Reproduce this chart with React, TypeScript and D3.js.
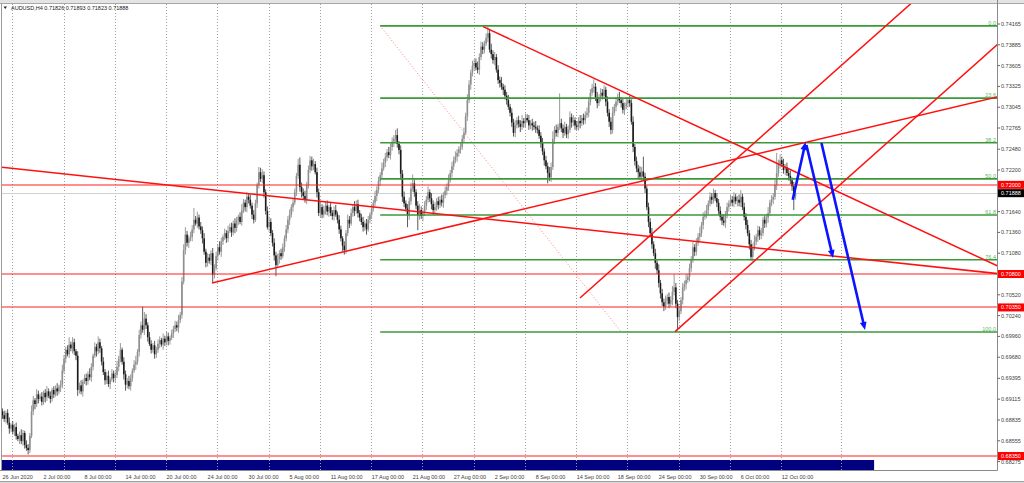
import React from 'react';
import * as d3 from 'd3';

const W = 1024;
const H = 483;
const PLOT = { left: 2, right: 997.5, top: 4, bottom: 470.5 };
const FONT = 'Liberation Sans, Arial, sans-serif';

const headerSymbol = 'AUDUSD,H4';
const headerQuote = ['0.71826', '0.71893', '0.71823', '0.71888'];

// H4 closes in pips (price * 10000), 26 Jun 2020 00:00 onward
const OPEN0 = 6895;
const closes = [
  6890,6885,6893,6880,6872,6877,6868,6874,6862,6858,
  6863,6855,6866,6850,6846,6843,6862,6895,6910,6905,
  6918,6912,6915,6908,6920,6914,6922,6916,6912,6924,
  6918,6926,6922,6928,6931,6950,6966,6978,6972,6985,
  6980,6988,6976,6970,6924,6930,6922,6935,6940,6936,
  6945,6941,6955,6970,6982,6976,6988,6980,6962,6948,
  6937,6943,6932,6938,6946,6940,6944,6955,6966,6978,
  6962,6945,6931,6936,6929,6940,6950,6958,6962,6975,
  6998,7011,7005,7020,7011,6995,6986,6978,6984,6972,
  6978,6986,6991,6985,6993,6988,6996,6990,6994,7000,
  7006,7011,7008,7018,7025,7070,7112,7133,7122,7128,
  7130,7140,7153,7148,7156,7144,7139,7128,7110,7095,
  7102,7098,7108,7079,7088,7104,7116,7110,7124,7130,
  7135,7128,7138,7143,7136,7148,7142,7152,7157,7150,
  7166,7176,7170,7184,7180,7172,7160,7153,7175,7200,
  7217,7208,7213,7190,7165,7143,7150,7135,7122,7105,
  7092,7100,7108,7104,7116,7128,7140,7153,7160,7170,
  7176,7190,7212,7227,7197,7190,7185,7180,7200,7220,
  7233,7225,7228,7217,7190,7162,7170,7160,7166,7172,
  7164,7170,7162,7158,7166,7160,7153,7140,7128,7118,
  7112,7135,7153,7148,7162,7170,7165,7174,7162,7156,
  7150,7143,7148,7140,7153,7160,7168,7176,7185,7193,
  7205,7213,7222,7230,7237,7244,7240,7251,7258,7262,
  7267,7255,7247,7215,7184,7175,7168,7159,7178,7195,
  7202,7190,7172,7159,7166,7158,7163,7172,7180,7190,
  7182,7174,7166,7170,7178,7173,7180,7176,7186,7192,
  7197,7206,7216,7225,7233,7238,7243,7248,7251,7262,
  7270,7292,7314,7335,7351,7360,7364,7358,7355,7372,
  7386,7382,7390,7398,7404,7382,7376,7368,7372,7355,
  7341,7337,7332,7328,7320,7314,7305,7297,7284,7270,
  7280,7287,7282,7278,7286,7283,7290,7287,7280,7283,
  7280,7278,7276,7274,7266,7256,7245,7233,7225,7216,
  7210,7224,7262,7274,7270,7278,7283,7276,7270,7278,
  7268,7274,7291,7284,7287,7280,7278,7286,7283,7290,
  7287,7294,7297,7312,7324,7330,7332,7318,7310,7318,
  7324,7320,7328,7312,7297,7285,7274,7297,7305,7312,
  7318,7314,7310,7301,7306,7310,7314,7310,7285,7251,
  7232,7222,7217,7211,7218,7211,7195,7170,7150,7135,
  7120,7108,7095,7085,7068,7054,7042,7036,7044,7049,
  7040,7045,7056,7062,7040,7022,7030,7045,7062,7066,
  7072,7076,7088,7099,7116,7110,7122,7130,7135,7146,
  7157,7160,7166,7175,7184,7180,7189,7182,7176,7165,
  7157,7152,7149,7160,7170,7175,7180,7176,7184,7178,
  7180,7176,7184,7170,7157,7146,7135,7120,7103,7116,
  7124,7130,7139,7132,7135,7153,7148,7156,7162,7176,
  7180,7184,7200,7216,7228,7233,7228,7220,7224,7216,
  7212,7206,7198,7184,7189,
];

// upper / lower shadow lengths in pips
const wickUp = [
  4,6,3,5,7,2,5,4,6,3,5,8,4,3,6,
  5,4,8,6,3,7,5,4,6,3,5,7,4,6,3,
  5,4,7,3,6,8,5,4,6,10,4,7,5,3,6,
  4,7,3,5,6,4,8,5,3,6,4,8,5,3,6,
  4,5,7,3,6,4,5,8,4,9,3,6,5,4,7,
  5,3,6,8,4,7,5,25,9,6,4,7,5,3,6,
  4,6,5,3,7,4,6,5,3,5,4,6,5,7,4,
  6,8,10,5,4,7,6,16,5,8,4,6,5,7,4,
  6,5,4,7,5,6,4,8,5,3,6,4,7,5,6,
  4,7,5,3,6,8,5,4,6,5,7,4,6,5,3,
  7,6,8,5,4,6,7,5,4,6,5,7,4,6,5,
  4,6,5,7,4,6,5,4,8,10,6,5,7,4,6,
  6,5,7,4,6,5,8,4,6,5,7,3,6,4,5,
  7,4,6,5,3,6,4,7,5,6,4,8,5,6,4,
  5,7,4,6,5,3,6,4,7,5,6,4,8,5,6,
  4,7,5,6,5,7,9,4,6,5,7,4,6,5,8,
  12,5,4,6,8,5,4,6,5,8,4,7,5,6,4,
  6,5,7,4,6,5,8,4,6,5,7,5,4,6,5,
  7,5,8,6,4,7,5,6,8,5,7,6,4,6,9,
  6,8,5,7,4,6,5,8,4,6,5,7,4,6,5,
  7,4,6,5,8,4,6,5,7,4,6,5,8,4,6,
  5,7,4,6,5,8,6,10,5,7,4,40,6,5,7,
  4,6,8,5,7,4,6,5,8,4,6,5,7,6,5,
  6,10,5,7,4,6,5,6,4,7,5,6,8,4,6,
  5,7,4,6,5,8,4,6,5,7,4,6,5,8,6,
  20,5,4,6,5,7,4,6,5,8,4,6,5,7,4,
  6,5,8,18,6,5,7,4,6,5,8,4,6,5,7,
  4,6,5,8,4,6,5,7,4,6,5,6,4,7,5,
  6,4,8,5,6,4,7,5,6,4,5,7,9,4,6,
  5,7,4,6,5,8,4,6,5,7,4,6,5,8,4,
  6,5,7,27,6,8,5,7,4,6,5,7,4,6,3,
];
const wickDn = [
  5,4,6,3,7,5,4,6,5,3,7,4,6,5,4,
  6,4,3,5,7,4,6,3,5,4,7,5,3,6,4,
  5,3,6,4,7,5,4,6,3,5,4,7,5,6,8,
  5,4,7,3,6,5,4,6,5,3,7,4,6,5,4,
  6,5,4,7,3,6,5,4,6,5,4,7,8,5,4,
  6,5,3,7,4,6,5,4,7,5,6,3,5,4,6,
  5,4,6,3,7,5,4,6,5,3,6,4,5,7,4,
  5,4,6,5,7,4,6,5,3,6,4,5,7,4,6,
  5,4,6,11,5,3,6,4,7,5,4,6,5,3,6,
  4,7,5,6,3,5,4,6,7,5,4,6,5,3,6,
  5,4,6,7,5,3,6,4,5,7,15,4,6,5,3,
  6,4,5,7,4,6,3,5,4,6,7,5,4,6,5,
  4,6,5,3,7,4,6,5,4,6,5,7,4,5,6,
  3,5,6,4,7,6,5,4,6,3,5,7,4,6,5,
  4,6,5,7,3,5,6,4,5,7,4,6,5,3,6,
  5,4,6,5,7,4,5,6,8,7,5,4,16,6,5,
  4,6,5,20,6,4,7,5,6,4,5,7,6,4,5,
  6,4,5,7,4,6,5,3,6,5,4,7,5,6,4,
  5,3,6,4,7,5,6,4,5,7,4,6,5,3,6,
  4,6,5,7,4,5,6,4,7,5,6,4,5,6,5,
  6,4,5,7,4,6,5,3,6,5,7,4,6,5,4,
  6,5,7,4,14,5,6,4,7,5,6,4,5,7,4,
  5,6,4,7,5,6,4,5,7,4,6,5,4,6,5,
  4,6,5,7,4,6,5,4,6,5,7,6,5,4,6,
  5,4,6,5,7,4,6,5,4,7,6,5,8,4,6,
  5,6,4,7,5,6,4,8,5,6,7,5,6,4,5,
  6,4,7,5,6,18,5,4,6,5,7,4,6,5,4,
  6,5,4,7,5,6,4,5,7,4,6,5,4,6,5,
  5,6,4,7,5,6,4,5,6,4,7,5,6,4,5,
  6,4,7,5,6,4,5,7,6,5,4,6,5,7,4,
  5,6,4,7,5,6,4,5,7,4,6,5,6,18,4,
];

const priceTickLabels = [
  '0.74165','0.73885','0.73605','0.73325','0.73045','0.72765','0.72480','0.72200',
  '0.71640','0.71360','0.71080','0.70520','0.70240','0.69960','0.69680','0.69395',
  '0.69115','0.68835','0.68555','0.68275',
];

const dateLabels = [
  '26 Jun 2020','2 Jul 00:00','8 Jul 00:00','14 Jul 00:00','20 Jul 00:00','24 Jul 00:00',
  '30 Jul 00:00','5 Aug 00:00','11 Aug 00:00','17 Aug 00:00','21 Aug 00:00','27 Aug 00:00',
  '2 Sep 00:00','8 Sep 00:00','14 Sep 00:00','18 Sep 00:00','24 Sep 00:00','30 Sep 00:00',
  '6 Oct 00:00','12 Oct 00:00',
];
const dateLabelBars = [0,24,48,72,96,120,144,168,192,216,240,264,288,312,336,360,384,408,432,456];

const gridBars = [6,36,66,96,126,156,186,216,246,276,306,336,366,396,426,456,491];

const redLevels = [0.72, 0.708, 0.7035, 0.6835];
const redLevelLabels = ['0.72000', '0.70800', '0.70350', '0.68350'];
const bidPrice = 0.71888;
const bidLabel = '0.71888';

const fibHigh = { bar: 221, price: 0.7414 };
const fibLow = { bar: 362, price: 0.7002 };
const fibLevels = [0, 23.6, 38.2, 50, 61.8, 76.4, 100];
const fibLabels = ['0.0', '23.6', '38.2', '50.0', '61.8', '76.4', '100.0'];

const trendLines = [
  { b1: 0, p1: 0.72235, b2: 464, p2: 0.71096, both: true },
  { b1: 122.6, p1: 0.70679, b2: 581.9, p2: 0.73183, both: false },
  { b1: 281.2, p1: 0.74129, b2: 581.9, p2: 0.70912, both: false },
  { b1: 337.9, p1: 0.70477, b2: 525.2, p2: 0.7431, both: false },
  { b1: 393.5, p1: 0.70024, b2: 581.9, p2: 0.73882, both: false },
];

const arrows = [
  { b1: 462.4, p1: 0.7180, b2: 469.9, p2: 0.72577 },
  { b1: 470.4, p1: 0.72537, b2: 486.0, p2: 0.71016 },
  { b1: 479.2, p1: 0.72563, b2: 504.7, p2: 0.70047 },
];

const navyBarEndBar = 510;

export default function App() {
  const x = d3.scaleLinear().domain([0, 456]).range([2.5, 2.5 + 456 * 1.709]);
  const y = d3.scaleLinear().domain([0.68275, 0.74165]).range([461.6, 24]);
  const snap = (v: number) => Math.round(v - 0.5) + 0.5;

  const candles = closes.map((c, i) => {
    const o = i === 0 ? OPEN0 : closes[i - 1];
    const hi = Math.max(o, c) + wickUp[i];
    const lo = Math.min(o, c) - wickDn[i];
    return { i, o: o / 10000, c: c / 10000, h: hi / 10000, l: lo / 10000 };
  });

  const fibRange = fibHigh.price - fibLow.price;

  const rayPoints = (t: any) => {
    const x1 = x(t.b1), y1 = y(t.p1), x2 = x(t.b2), y2 = y(t.p2);
    const k = (y2 - y1) / (x2 - x1);
    const xs = t.both ? PLOT.left - 5 : x1;
    const xe = PLOT.right + 5;
    return { xs, ys: y1 + (xs - x1) * k, xe, ye: y1 + (xe - x1) * k };
  };

  const arrowShape = (a: any) => {
    const tx = x(a.b1), ty = y(a.p1), hx = x(a.b2), hy = y(a.p2);
    const len = Math.hypot(hx - tx, hy - ty);
    const ux = (hx - tx) / len, uy = (hy - ty) / len;
    const nx = -uy, ny = ux;
    const L = 8, Wd = 3.4;
    const bx = hx - ux * L, by = hy - uy * L;
    return {
      line: { x1: tx, y1: ty, x2: hx - ux * L * 0.7, y2: hy - uy * L * 0.7 },
      head: `${hx},${hy} ${bx + nx * Wd},${by + ny * Wd} ${bx - nx * Wd},${by - ny * Wd}`,
    };
  };

  return (
    <svg
      width={W}
      height={H}
      viewBox={`0 0 ${W} ${H}`}
      style={{ position: 'absolute', left: 0, top: 0, display: 'block', background: '#fff' }}
      fontFamily={FONT}
    >
      <defs>
        <clipPath id="plotClip">
          <rect x={PLOT.left} y={PLOT.top} width={PLOT.right - PLOT.left} height={PLOT.bottom - PLOT.top} />
        </clipPath>
      </defs>
      <rect x={0} y={0} width={W} height={H} fill="#fff" />
      <rect x={0} y={0} width={W} height={3} fill="#e4e4e4" />
      <line x1={0} x2={W} y1={3.5} y2={3.5} stroke="#a8a8a8" />

      <rect x={PLOT.left} y={460} width={x(navyBarEndBar) - PLOT.left} height={10.5} fill="#000080" />

      {gridBars.map((b) => (
        <line key={'g' + b} x1={snap(x(b))} x2={snap(x(b))} y1={PLOT.top} y2={PLOT.bottom}
          stroke="#a0a0a0" strokeWidth={1} strokeDasharray="1,2" />
      ))}

      <line x1={PLOT.left} x2={PLOT.right} y1={snap(y(bidPrice))} y2={snap(y(bidPrice))} stroke="#d0d0d0" strokeWidth={1} />

      <g clipPath="url(#plotClip)">
        {candles.map((d) => {
          const bull = d.c >= d.o;
          const cx = x(d.i);
          const yt = y(Math.max(d.o, d.c));
          const yb = y(Math.min(d.o, d.c));
          return (
            <g key={'c' + d.i}>
              <line x1={cx} x2={cx} y1={y(d.h)} y2={y(d.l)} stroke={bull ? '#9a9a9a' : '#5a5a5a'} strokeWidth={1} />
              <rect x={cx - 0.8} y={yt} width={1.6} height={Math.max(0.9, yb - yt)} fill={bull ? '#8e8e8e' : '#1a1a1a'} />
            </g>
          );
        })}
      </g>

      {redLevels.map((p, i) => (
        <line key={'r' + i} x1={PLOT.left} x2={PLOT.right} y1={Math.round(y(p))} y2={Math.round(y(p))} stroke="#ff2020" strokeWidth={1.2} />
      ))}

      <g clipPath="url(#plotClip)">
        <line x1={x(fibHigh.bar)} y1={y(fibHigh.price)} x2={x(fibLow.bar)} y2={y(fibLow.price)}
          stroke="#ff8080" strokeWidth={1} strokeDasharray="1,2" />
        {fibLevels.map((lv, i) => {
          const yy = y(fibHigh.price - (fibRange * lv) / 100);
          return (
            <g key={'f' + i}>
              <line x1={x(fibHigh.bar)} x2={PLOT.right} y1={yy} y2={yy} stroke="#3a9a3a" strokeWidth={1.6} />
              <text x={PLOT.right - 1.5} y={yy - 1.2} textAnchor="end" fontSize={5.5} fill="#5cb85c">{fibLabels[i]}</text>
            </g>
          );
        })}
      </g>

      <g clipPath="url(#plotClip)">
        {trendLines.map((t, i) => {
          const r = rayPoints(t);
          return <line key={'t' + i} x1={r.xs} y1={r.ys} x2={r.xe} y2={r.ye} stroke="#ff1010" strokeWidth={1.5} />;
        })}
      </g>

      {arrows.map((a, i) => {
        const s = arrowShape(a);
        return (
          <g key={'a' + i}>
            <line {...s.line} stroke="#0a14ff" strokeWidth={2.6} />
            <polygon points={s.head} fill="#0a14ff" />
          </g>
        );
      })}

      <line x1={1.5} x2={1.5} y1={3.5} y2={PLOT.bottom} stroke="#9a9a9a" />
      <line x1={PLOT.right} x2={PLOT.right} y1={0} y2={PLOT.bottom} stroke="#8a8a8a" />
      <line x1={0} x2={PLOT.right} y1={PLOT.bottom} y2={PLOT.bottom} stroke="#8a8a8a" />
      <rect x={0} y={481} width={W} height={2} fill="#d8d8d8" />
      <line x1={0} x2={W} y1={481.5} y2={481.5} stroke="#a0a0a0" />

      {priceTickLabels.map((s) => {
        const yy = y(parseFloat(s));
        return (
          <g key={'p' + s}>
            <line x1={PLOT.right} x2={PLOT.right + 2.5} y1={yy} y2={yy} stroke="#666" />
            <text x={1001} y={yy + 2} fontSize={5.5} fill="#404040">{s}</text>
          </g>
        );
      })}
      {redLevels.map((p, i) => (
        <g key={'rl' + i}>
          <rect x={PLOT.right + 0.5} y={y(p) - 4} width={W - PLOT.right} height={8} fill="#ff0000" />
          <text x={1001} y={y(p) + 2} fontSize={5.5} fill="#fff">{redLevelLabels[i]}</text>
        </g>
      ))}
      <rect x={PLOT.right + 0.5} y={y(bidPrice) - 4} width={W - PLOT.right} height={8} fill="#000" />
      <text x={1001} y={y(bidPrice) + 2} fontSize={5.5} fill="#fff">{bidLabel}</text>

      {dateLabels.map((s, i) => (
        <text key={'d' + i} x={x(dateLabelBars[i])} y={478.5} fontSize={5.5} fill="#404040">{s}</text>
      ))}

      <polygon points="3.5,6.5 7,6.5 5.25,9" fill="#222" />
      <text x={11} y={9.6} fontSize={5.5} fill="#202020">
        {headerSymbol + '  ' + headerQuote.join(' ')}
      </text>
    </svg>
  );
}
